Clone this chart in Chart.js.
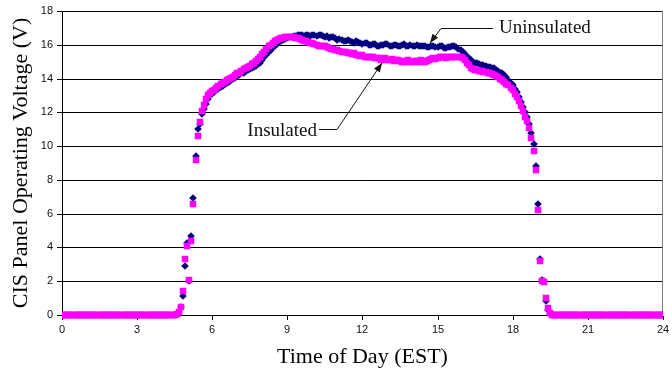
<!DOCTYPE html>
<html>
<head>
<meta charset="utf-8">
<script src="https://cdn.jsdelivr.net/npm/chart.js@4.4.0/dist/chart.umd.min.js"></script>
<style>
  html, body { margin: 0; padding: 0; background: #fff; }
</style>
</head>
<body>
<canvas id="chart" width="672" height="379"></canvas>
<script>
// Sample times, minutes after midnight (EST), one row per hour
const minutes = [
  0, 5, 10, 15, 20, 25, 30, 35, 40, 45, 50, 55,
  60, 65, 70, 75, 80, 85, 90, 95, 100, 105, 110, 115,
  120, 125, 130, 135, 140, 145, 150, 155, 160, 165, 170, 175,
  180, 185, 190, 195, 200, 205, 210, 215, 220, 225, 230, 235,
  240, 245, 250, 255, 260, 265, 270, 275, 280, 285, 290, 295,
  300, 305, 310, 315, 320, 325, 330, 335, 340, 345, 350, 355,
  360, 365, 370, 375, 380, 385, 390, 395, 400, 405, 410, 415,
  420, 425, 430, 435, 440, 445, 450, 455, 460, 465, 470, 475,
  480, 485, 490, 495, 500, 505, 510, 515, 520, 525, 530, 535,
  540, 545, 550, 555, 560, 565, 570, 575, 580, 585, 590, 595,
  600, 605, 610, 615, 620, 625, 630, 635, 640, 645, 650, 655,
  660, 665, 670, 675, 680, 685, 690, 695, 700, 705, 710, 715,
  720, 725, 730, 735, 740, 745, 750, 755, 760, 765, 770, 775,
  780, 785, 790, 795, 800, 805, 810, 815, 820, 825, 830, 835,
  840, 845, 850, 855, 860, 865, 870, 875, 880, 885, 890, 895,
  900, 905, 910, 915, 920, 925, 930, 935, 940, 945, 950, 955,
  960, 965, 970, 975, 980, 985, 990, 995, 1000, 1005, 1010, 1015,
  1020, 1025, 1030, 1035, 1040, 1045, 1050, 1055, 1060, 1065, 1070, 1075,
  1080, 1085, 1090, 1095, 1100, 1105, 1110, 1115, 1120, 1125, 1130, 1135,
  1140, 1145, 1150, 1155, 1160, 1165, 1170, 1175, 1180, 1185, 1190, 1195,
  1200, 1205, 1210, 1215, 1220, 1225, 1230, 1235, 1240, 1245, 1250, 1255,
  1260, 1265, 1270, 1275, 1280, 1285, 1290, 1295, 1300, 1305, 1310, 1315,
  1320, 1325, 1330, 1335, 1340, 1345, 1350, 1355, 1360, 1365, 1370, 1375,
  1380, 1385, 1390, 1395, 1400, 1405, 1410, 1415, 1420, 1425, 1430, 1435,
  1440
];

// Panel voltage, V (same rows as minutes)
const insulated = [
  0, 0, 0, 0, 0, 0, 0, 0, 0, 0, 0, 0,
  0, 0, 0, 0, 0, 0, 0, 0, 0, 0, 0, 0,
  0, 0, 0, 0, 0, 0, 0, 0, 0, 0, 0, 0,
  0, 0, 0, 0, 0, 0, 0, 0, 0, 0, 0, 0,
  0, 0, 0, 0, 0, 0, 0, 0.05, 0.2, 0.5, 1.4, 3.3,
  4.1, 2.1, 4.4, 6.6, 9.15, 10.6, 11.45, 12.05, 12.45, 12.8, 13.0, 13.15,
  13.25, 13.35, 13.45, 13.55, 13.65, 13.75, 13.8, 13.9, 13.95, 14.05, 14.1, 14.2,
  14.3, 14.35, 14.45, 14.55, 14.6, 14.7, 14.75, 14.85, 14.95, 15.05, 15.15, 15.3,
  15.45, 15.6, 15.75, 15.9, 16.0, 16.1, 16.2, 16.3, 16.35, 16.4, 16.4, 16.45,
  16.45, 16.45, 16.45, 16.45, 16.4, 16.4, 16.35, 16.3, 16.25, 16.2, 16.15, 16.1,
  16.1, 16.05, 16.0, 15.95, 15.95, 15.9, 15.9, 15.85, 15.8, 15.75, 15.75, 15.7,
  15.7, 15.65, 15.6, 15.6, 15.55, 15.5, 15.5, 15.45, 15.5, 15.4, 15.4, 15.35,
  15.4, 15.3, 15.3, 15.3, 15.3, 15.25, 15.2, 15.2, 15.2, 15.1, 15.15, 15.2,
  15.1, 15.1, 15.15, 15.05, 15.1, 15.1, 15.05, 15.0, 15.0, 15.05, 15.1, 15.0,
  15.0, 15.05, 15.05, 15.0, 15.1, 15.05, 15.0, 15.05, 15.1, 15.15, 15.2, 15.15,
  15.2, 15.25, 15.3, 15.3, 15.2, 15.25, 15.25, 15.3, 15.3, 15.25, 15.3, 15.3,
  15.2, 15.1, 14.95, 14.8, 14.65, 14.55, 14.5, 14.5, 14.45, 14.45, 14.4, 14.4,
  14.35, 14.3, 14.25, 14.2, 14.15, 14.1, 14.0, 13.9, 13.8, 13.7, 13.6, 13.45,
  13.3, 13.1, 12.9, 12.65, 12.4, 12.05, 11.75, 11.5, 11.1, 10.5, 9.7, 8.6,
  6.2, 3.2, 2.0, 1.95, 1.0, 0.4, 0.1, 0, 0, 0, 0, 0,
  0, 0, 0, 0, 0, 0, 0, 0, 0, 0, 0, 0,
  0, 0, 0, 0, 0, 0, 0, 0, 0, 0, 0, 0,
  0, 0, 0, 0, 0, 0, 0, 0, 0, 0, 0, 0,
  0, 0, 0, 0, 0, 0, 0, 0, 0, 0, 0, 0,
  0
];

const uninsulated = [
  0, 0, 0, 0, 0, 0, 0, 0, 0, 0, 0, 0,
  0, 0, 0, 0, 0, 0, 0, 0, 0, 0, 0, 0,
  0, 0, 0, 0, 0, 0, 0, 0, 0, 0, 0, 0,
  0, 0, 0, 0, 0, 0, 0, 0, 0, 0, 0, 0,
  0, 0, 0, 0, 0, 0, 0, 0.05, 0.15, 0.45, 1.1, 2.9,
  4.25, 2.0, 4.7, 6.95, 9.4, 11.0, 11.3, 11.9, 12.2, 12.5, 12.8, 13.0,
  13.1, 13.2, 13.3, 13.4, 13.5, 13.55, 13.65, 13.75, 13.8, 13.9, 13.95, 14.05,
  14.15, 14.2, 14.3, 14.35, 14.45, 14.5, 14.55, 14.65, 14.7, 14.75, 14.85, 14.95,
  15.1, 15.25, 15.4, 15.55, 15.7, 15.85, 15.95, 16.05, 16.15, 16.25, 16.3, 16.35,
  16.4, 16.45, 16.45, 16.5, 16.5, 16.55, 16.55, 16.6, 16.5, 16.55, 16.55, 16.5,
  16.6, 16.55, 16.5, 16.6, 16.55, 16.5, 16.45, 16.5, 16.4, 16.45, 16.45, 16.4,
  16.3, 16.35, 16.3, 16.25, 16.2, 16.3, 16.25, 16.15, 16.1, 16.2, 16.15, 16.1,
  16.05, 16.1, 16.1, 16.0, 16.0, 16.05, 16.05, 15.95, 15.95, 16.0, 16.0, 16.05,
  16.05, 15.95, 15.95, 16.0, 16.0, 15.9, 15.95, 16.0, 16.05, 15.95, 15.95, 16.0,
  15.9, 15.95, 16.0, 15.9, 15.9, 15.95, 15.95, 15.85, 15.85, 15.9, 15.9, 15.85,
  15.85, 15.9, 15.9, 15.8, 15.8, 15.85, 15.85, 15.9, 15.9, 15.85, 15.75, 15.7,
  15.6, 15.45, 15.3, 15.2, 15.1, 15.0, 14.95, 14.9, 14.85, 14.8, 14.8, 14.75,
  14.7, 14.7, 14.65, 14.6, 14.5, 14.45, 14.35, 14.3, 14.2, 14.1, 13.9, 13.75,
  13.6, 13.4, 13.2, 12.9, 12.6, 12.3, 12.0, 11.7, 11.3, 10.8, 10.1, 8.8,
  6.6, 3.3, 2.1, 2.0, 0.85, 0.3, 0.05, 0, 0, 0, 0, 0,
  0, 0, 0, 0, 0, 0, 0, 0, 0, 0, 0, 0,
  0, 0, 0, 0, 0, 0, 0, 0, 0, 0, 0, 0,
  0, 0, 0, 0, 0, 0, 0, 0, 0, 0, 0, 0,
  0, 0, 0, 0, 0, 0, 0, 0, 0, 0, 0, 0,
  0
];

// callouts: [minutes, volts] anchors
const uninsNote = { text: 'Uninsulated', tip: [881, 16.12], elbow: [909, 17.0], end: [1032, 17.0], label: [1048, 16.71], align: 'left' };
const insNote = { text: 'Insulated', tip: [766, 14.93], elbow: [659, 11.0], end: [615, 11.0], label: [611, 10.62], align: 'right' };

const SERIF = "'Liberation Serif', 'Times New Roman', serif";
const SANS = "'Liberation Sans', Arial, sans-serif";

const toPoints = vals => minutes.map((m, i) => ({ x: m, y: vals[i] }));

const frame = {
  id: 'frame',
  beforeDatasetsDraw(c) {
    const { ctx, chartArea: a } = c;
    const xr = Math.round(a.right) - 0.5;
    ctx.save();
    ctx.strokeStyle = '#808080';
    ctx.lineWidth = 1;
    ctx.beginPath();
    ctx.moveTo(xr, a.top);
    ctx.lineTo(xr, a.bottom);
    ctx.stroke();
    ctx.restore();
  }
};

function drawNote(c, n) {
  const { ctx } = c;
  const sx = c.scales.x, sy = c.scales.y;
  const px = p => [sx.getPixelForValue(p[0]), sy.getPixelForValue(p[1])];
  const [tx, ty] = px(n.tip), [ex, ey] = px(n.elbow), [nx, ny] = px(n.end), [lx, ly] = px(n.label);
  ctx.save();
  ctx.strokeStyle = '#111';
  ctx.fillStyle = '#111';
  ctx.lineWidth = 1;
  ctx.beginPath();
  ctx.moveTo(nx, Math.round(ny) + 0.5);
  ctx.lineTo(ex, Math.round(ey) + 0.5);
  ctx.lineTo(tx, ty);
  ctx.stroke();
  // arrow head
  const ang = Math.atan2(ty - ey, tx - ex);
  const len = 9, half = 3.5;
  ctx.beginPath();
  ctx.moveTo(tx, ty);
  ctx.lineTo(tx - len * Math.cos(ang) + half * Math.sin(ang), ty - len * Math.sin(ang) - half * Math.cos(ang));
  ctx.lineTo(tx - len * Math.cos(ang) - half * Math.sin(ang), ty - len * Math.sin(ang) + half * Math.cos(ang));
  ctx.closePath();
  ctx.fill();
  ctx.font = '19px ' + SERIF;
  ctx.textAlign = n.align;
  ctx.textBaseline = 'alphabetic';
  ctx.fillText(n.text, lx, ly);
  ctx.restore();
}

const notes = {
  id: 'notes',
  afterDatasetsDraw(c) {
    drawNote(c, uninsNote);
    drawNote(c, insNote);
  }
};

new Chart(document.getElementById('chart'), {
  type: 'scatter',
  data: {
    datasets: [
      {
        label: 'Insulated', data: toPoints(insulated),
        pointStyle: 'rect', pointRadius: 4.6, pointBorderWidth: 0,
        backgroundColor: '#FF00FF', borderColor: '#FF00FF',
        clip: { left: 0, right: 0, top: false, bottom: false },
      },
      {
        label: 'Uninsulated', data: toPoints(uninsulated),
        pointStyle: 'rectRot', pointRadius: 3.8, pointBorderWidth: 0,
        backgroundColor: '#000080', borderColor: '#000080',
        clip: { left: 0, right: 0, top: false, bottom: false },
      },
    ],
  },
  options: {
    responsive: false,
    animation: false,
    layout: { padding: { top: 11, right: 6, left: 0, bottom: 0 } },
    scales: {
      x: {
        type: 'linear', min: 0, max: 1440, alignToPixels: true,
        afterFit: s => { s.height = 64; },
        ticks: {
          stepSize: 180, autoSkip: false, maxRotation: 0, padding: 3,
          color: '#111', font: { family: SANS, size: 11 },
          callback: v => v / 60,
        },
        grid: { drawOnChartArea: false, drawTicks: true, tickLength: 5, color: '#000' },
        border: { color: '#000', width: 1 },
        title: {
          display: true, text: 'Time of Day (EST)', color: '#000',
          font: { family: SERIF, size: 22 }, padding: { top: 0, bottom: 9 },
        },
      },
      y: {
        min: 0, max: 18, alignToPixels: true,
        afterFit: s => { s.width = 62; },
        ticks: { stepSize: 2, padding: 4, color: '#111', font: { family: SANS, size: 11 } },
        grid: { color: '#000', tickLength: 5 },
        border: { color: '#000', width: 1 },
        title: {
          display: true, text: 'CIS Panel Operating Voltage (V)', color: '#000',
          font: { family: SERIF, size: 22 }, padding: { top: 8, bottom: 0 },
        },
      },
    },
    plugins: {
      legend: { display: false },
      tooltip: { enabled: false },
    },
  },
  plugins: [frame, notes],
});
</script>
</body>
</html>
